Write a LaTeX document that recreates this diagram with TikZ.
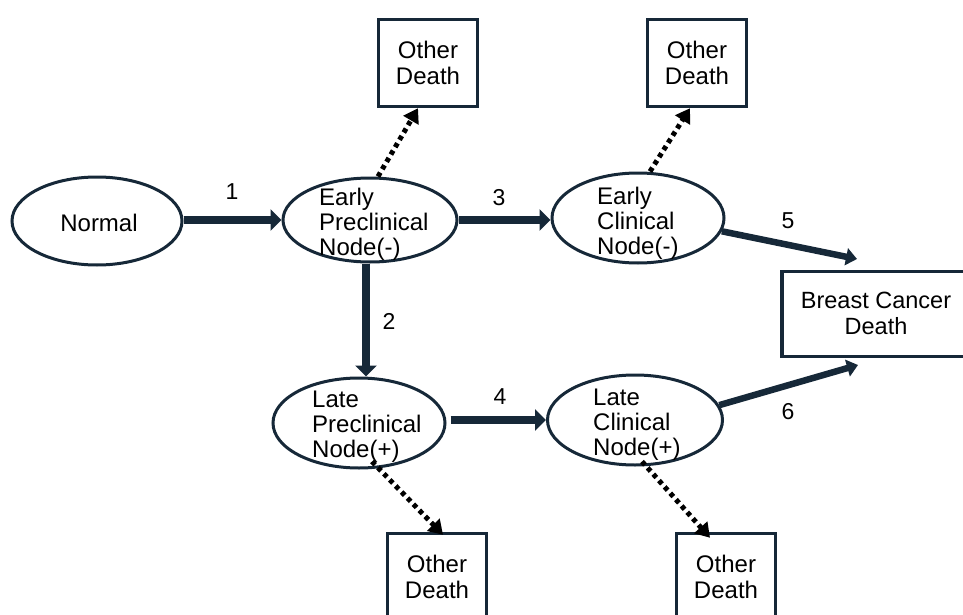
\documentclass[tikz,border=0pt]{standalone}
\usepackage{fontspec}
\setmainfont{Liberation Sans}
\usetikzlibrary{shapes.geometric,arrows.meta}
\definecolor{navy}{RGB}{22,40,56}
\tikzset{
  state/.style={ellipse,draw=navy,line width=3pt,inner sep=0pt},
  statetext/.style={anchor=west,align=left,inner sep=0pt,font=\fontsize{24}{25}\selectfont},
  deathbox/.style={rectangle,draw=navy,line width=3.5pt,inner sep=0pt,minimum width=99pt,minimum height=87pt,align=center,font=\fontsize{24}{26}\selectfont},
  flow/.style={draw=navy,line width=8pt,-{Triangle[length=11pt,width=21pt]}},
  flowthin/.style={draw=navy,line width=6.5pt,-{Triangle[length=11pt,width=17pt]}},
  other/.style={draw=black,line width=5pt,dash pattern=on 4.5pt off 4pt,-{Triangle[length=14pt,width=17pt]}},
  num/.style={font=\fontsize{23}{23}\selectfont,inner sep=0pt}
}
\begin{document}
\begin{tikzpicture}[x=1pt,y=-1pt]
\useasboundingbox (0,0) rectangle (963,615);
\clip (0,0) rectangle (963,615);
% states
\node[state,minimum width=170pt,minimum height=88pt] (n) at (97,221) {};
\node[font=\fontsize{24}{25}\selectfont] (nt) at (99,223) {Normal};
\node[state,minimum width=174pt,minimum height=84pt] (ep) at (370,220) {};
\node[statetext] (ept) at (319,224) {Early\\Preclinical\\Node(-)};
\node[state,minimum width=172pt,minimum height=90pt] (ec) at (638,218) {};
\node[statetext] (ect) at (597,223) {Early\\Clinical\\Node(-)};
\node[state,minimum width=172pt,minimum height=90pt] (lp) at (359,423) {};
\node[statetext] (lpt) at (312,427) {Late\\Preclinical\\Node(+)};
\node[state,minimum width=175pt,minimum height=90pt] (lc) at (635,420) {};
\node[statetext] (lct) at (593,425) {Late\\Clinical\\Node(+)};
% boxes
\node[deathbox] (od1) at (428,63) {Other\\Death};
\node[deathbox] (od2) at (697,63) {Other\\Death};
\node[deathbox] (od3) at (437,577) {Other\\Death};
\node[deathbox] (od4) at (726,577) {Other\\Death};
\node[deathbox,minimum width=200pt,minimum height=85pt] (bc) at (882,314) {};
\node[font=\fontsize{23.5}{26}\selectfont,align=center] (bct) at (876,313) {Breast Cancer\\Death};
% free ends
\coordinate (t5) at (857,259);
\coordinate (t6) at (858,365);
% main transitions
\draw[flow] (n.east |- 0,220) -- (ep.west);
\draw[flow] (ep.east) -- (ec.west |- ep.east);
\draw[flow] (ep.south -| 366,0) -- (lp.north -| 366,0);
\draw[flow] ([xshift=4pt]lp.east |- lc.west) -- (lc.west);
\draw[flowthin] (ec.-9) -- (t5);
\draw[flowthin] (lc.10) -- (t6);
% labels
\node[num] (l1) at (232,192) {1};
\node[num] (l2) at (389,321) {2};
\node[num] (l3) at (499,198) {3};
\node[num] (l4) at (500,397) {4};
\node[num] (l5) at (788,221) {5};
\node[num] (l6) at (788,412) {6};
% other deaths
\draw[other] ([xshift=8pt]ep.north) -- ([xshift=-10pt]od1.south);
\draw[other] ([xshift=12pt]ec.north) -- ([xshift=-7pt]od2.south);
\draw[other] ([xshift=13pt,yshift=8pt]lp.south) -- ([xshift=6pt,yshift=-3pt]od3.north);
\draw[other] ([xshift=7pt,yshift=5pt]lc.south) -- ([xshift=-16pt,yshift=-6pt]od4.north);
\end{tikzpicture}
\end{document}
